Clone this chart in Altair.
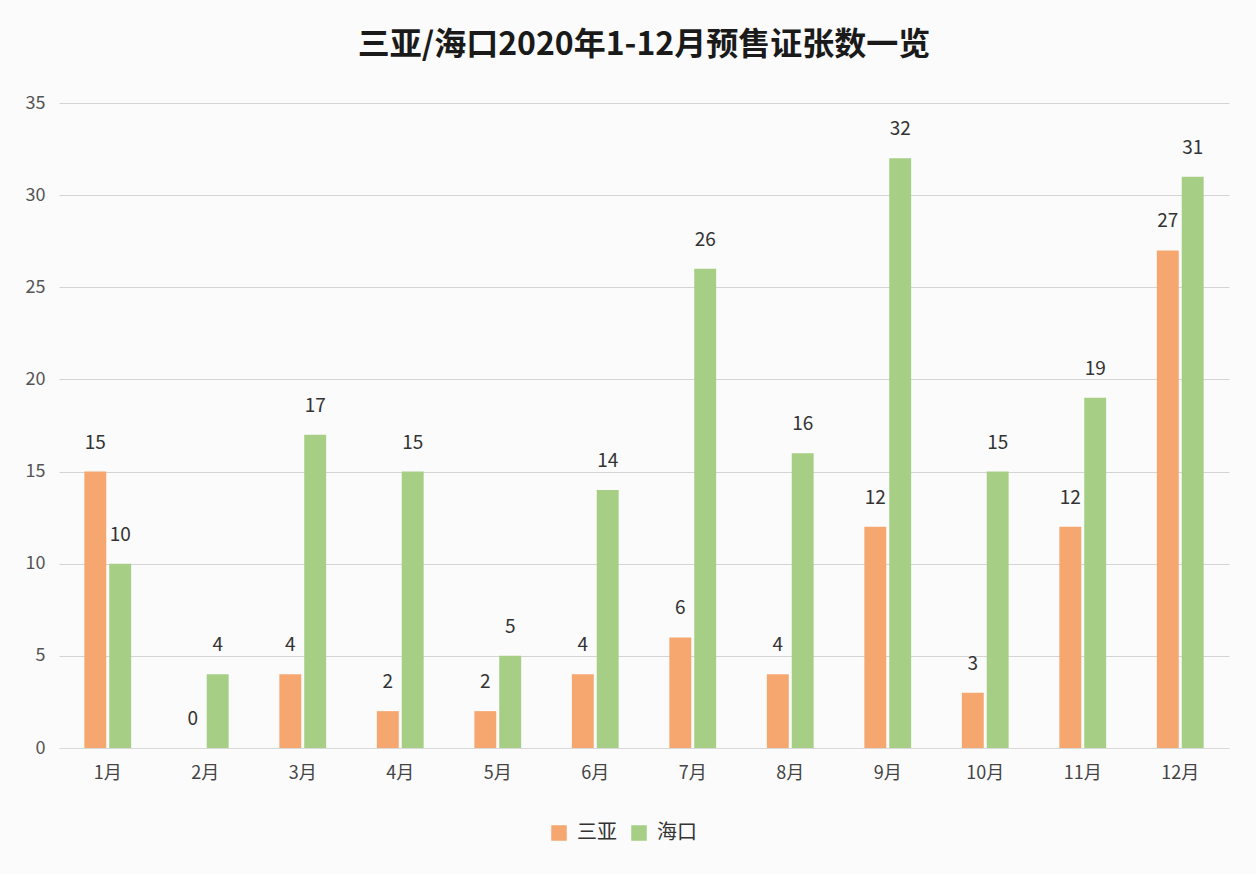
import altair as alt
import pandas as pd

months = ["1月", "2月", "3月", "4月", "5月", "6月", "7月", "8月", "9月", "10月", "11月", "12月"]
series = ["三亚", "海口"]
sanya = [15, 0, 4, 2, 2, 4, 6, 4, 12, 3, 12, 27]
haikou = [10, 4, 17, 15, 5, 14, 26, 16, 32, 15, 19, 31]
colors = ["#F6A770", "#A6CF85"]

rows = []
for m, a, b in zip(months, sanya, haikou):
    rows.append({"month": m, "city": "三亚", "value": a})
    rows.append({"month": m, "city": "海口", "value": b})
df = pd.DataFrame(rows)

FONT = "Noto Sans CJK SC"

x = alt.X("month:N", sort=months, title=None,
          scale=alt.Scale(paddingInner=0.52, paddingOuter=0.26),
          axis=alt.Axis(labelAngle=0, labelFontSize=18, labelColor="#444444",
                        labelFont=FONT, ticks=False, domainColor="#d9d9d9",
                        labelPadding=16))
xo = alt.XOffset("city:N", sort=series, scale=alt.Scale(paddingInner=0.12))
y = alt.Y("value:Q", title=None,
          scale=alt.Scale(domain=[0, 35]),
          axis=alt.Axis(values=[0, 5, 10, 15, 20, 25, 30, 35], labelFontSize=18,
                        labelColor="#555555", labelFont=FONT, ticks=False,
                        domain=False, gridColor="#d4d4d4", labelPadding=14))

color = alt.Color("city:N", sort=series,
                  scale=alt.Scale(domain=series, range=colors),
                  legend=alt.Legend(title=None, orient="none", direction="horizontal",
                                    legendX=490, legendY=720, symbolType="square",
                                    symbolSize=240, symbolStrokeWidth=0,
                                    labelFontSize=20, labelFont=FONT,
                                    labelColor="#333333", columnPadding=12,
                                    labelOffset=8))

bars = alt.Chart(df).mark_bar().encode(x=x, xOffset=xo, y=y, color=color)
labels = alt.Chart(df).mark_text(baseline="bottom", dy=-19, fontSize=19,
                                 font=FONT, color="#333333").encode(
    x=x, xOffset=xo, y=y, text="value:Q")

chart = alt.layer(bars, labels).properties(
    width=1170, height=645,
    title=alt.TitleParams("三亚/海口2020年1-12月预售证张数一览", fontSize=32,
                          font=FONT, fontWeight="bold", color="#1a1a1a",
                          anchor="middle", offset=32),
    background="#fbfbfb",
    padding={"left": 59, "top": 103, "right": 27, "bottom": 126},
    autosize=alt.AutoSizeParams(type="none"),
).configure_view(stroke=None)

chart.save("out.html", embed_options={"renderer": "svg", "actions": False})
